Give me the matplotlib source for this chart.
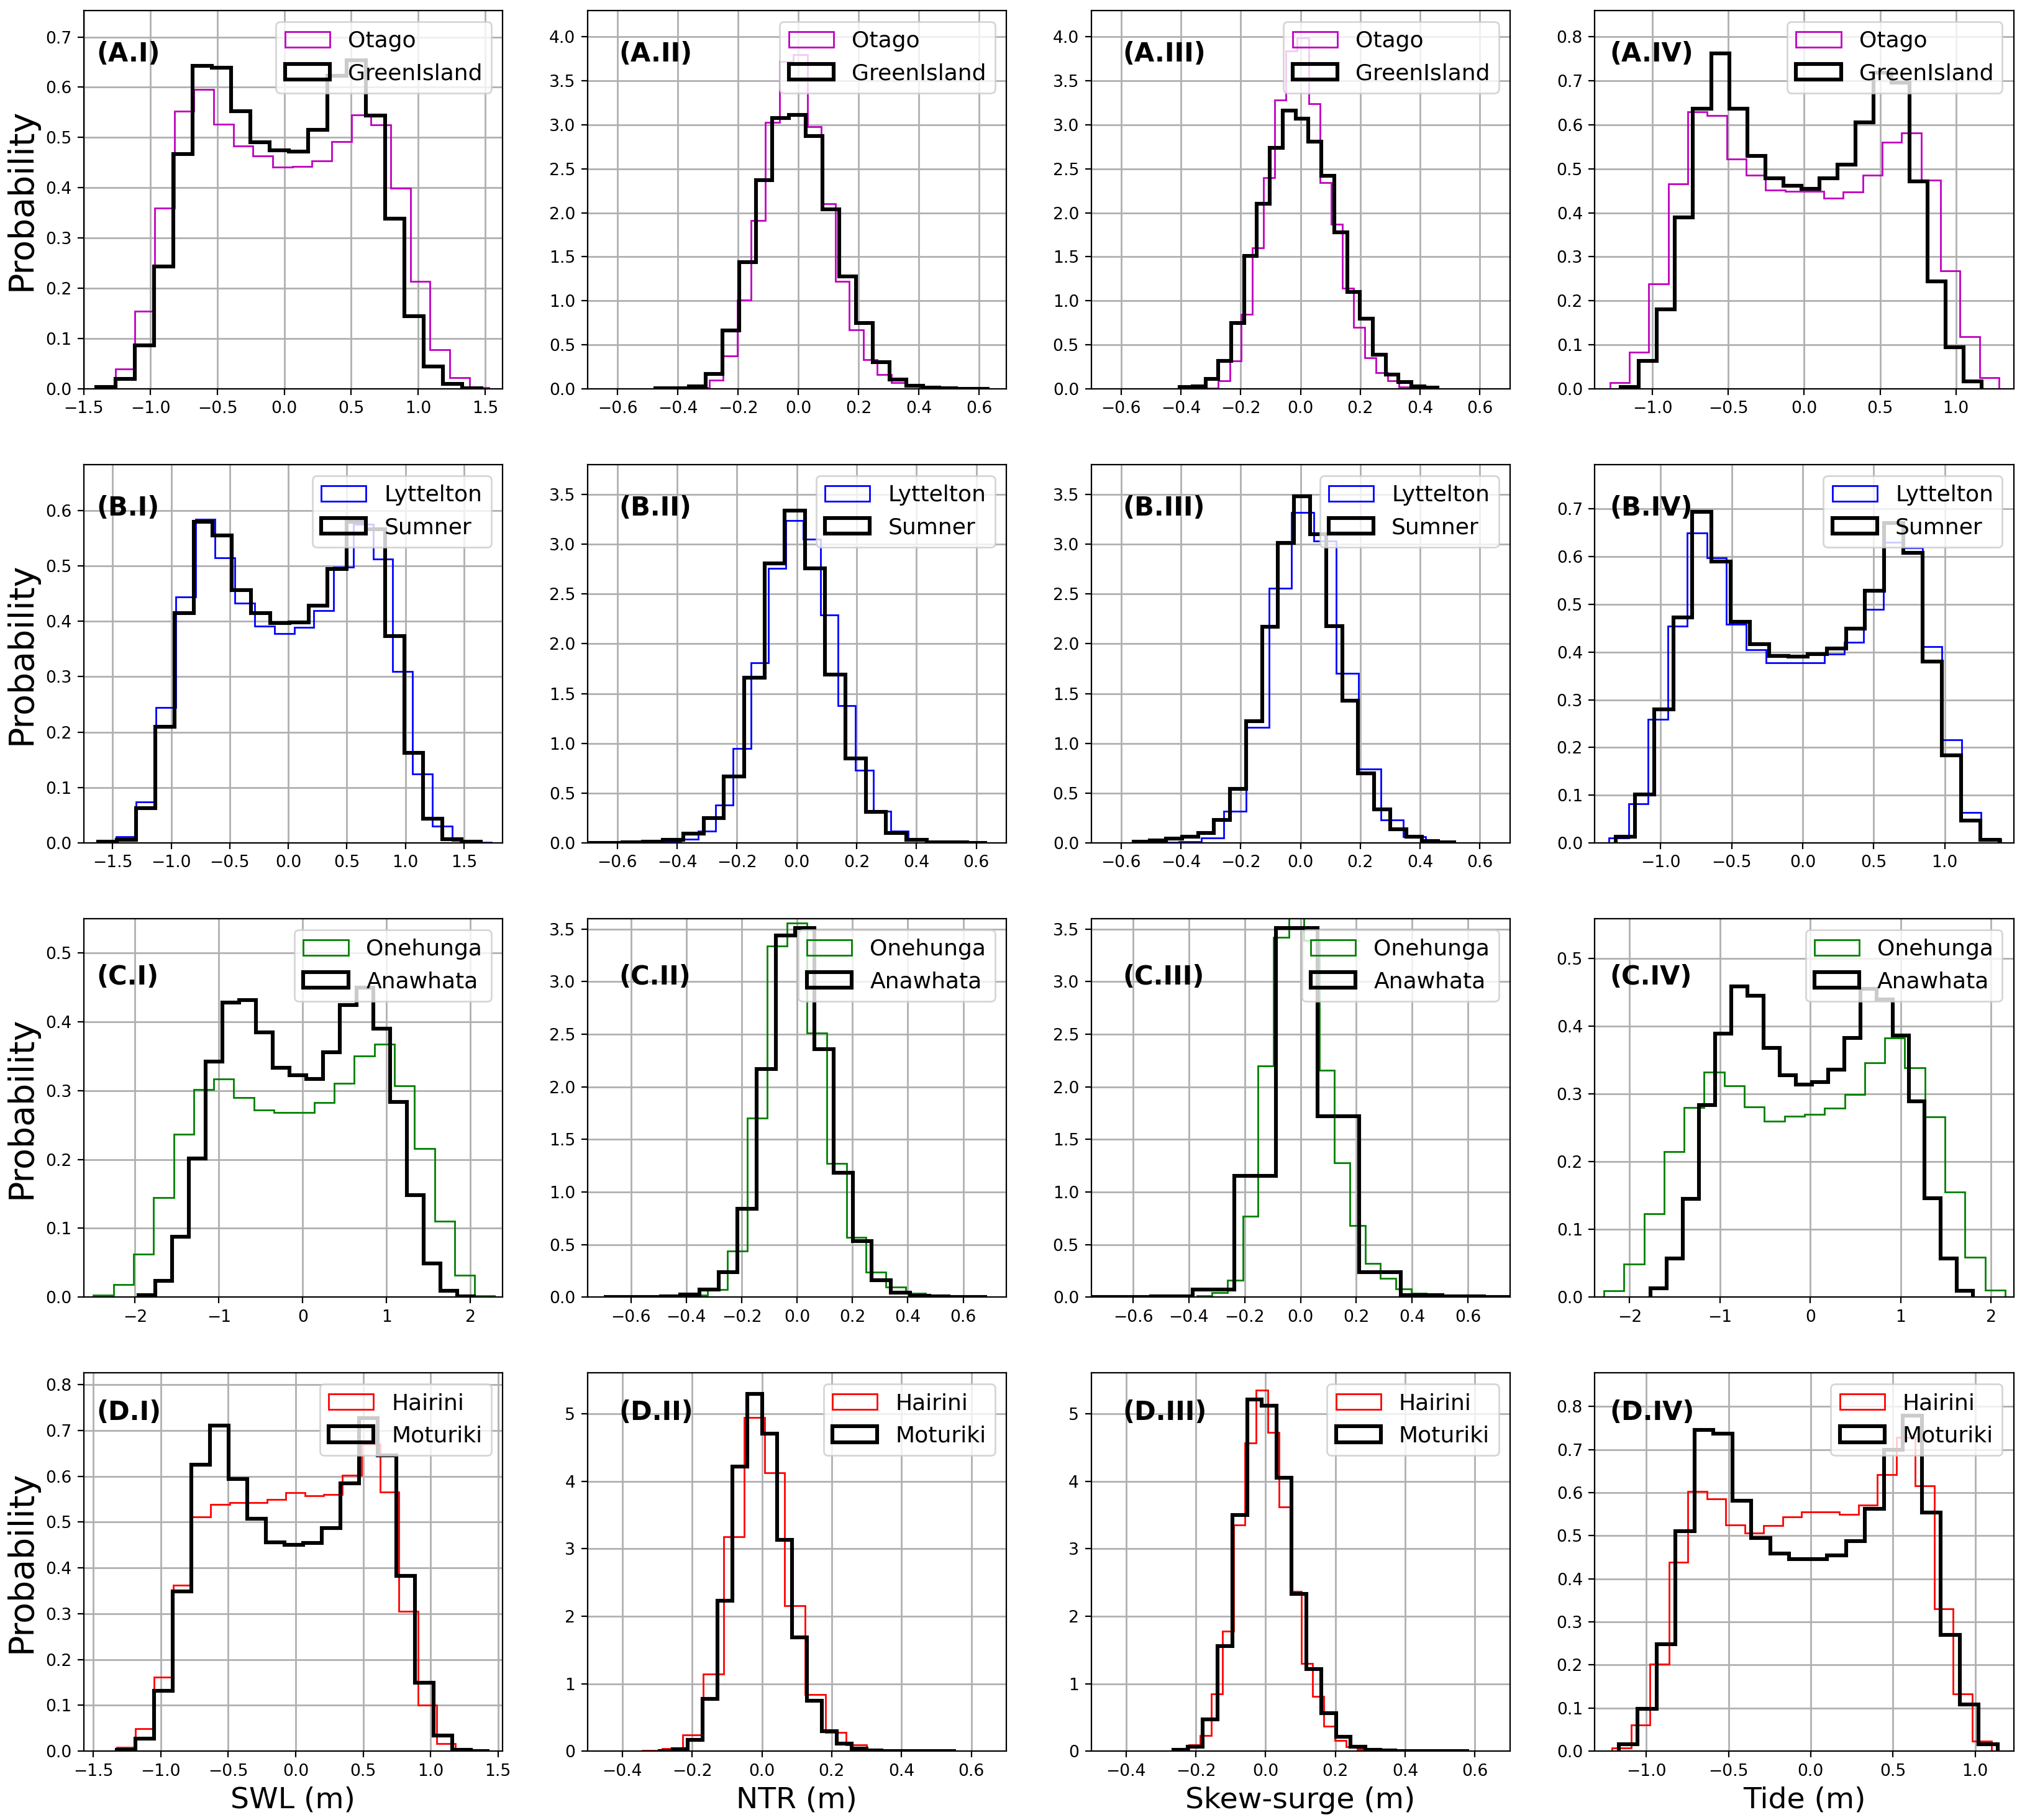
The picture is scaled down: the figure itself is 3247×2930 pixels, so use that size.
import numpy as np
import matplotlib
matplotlib.use('Agg')
from matplotlib import pyplot as plt

# each series: 20 equal bins between (lo, hi), heights are densities
# order of ranges: SWL, NTR, Skew-surge, Tide
otago_ranges = [(-1.41, 1.53), (-0.435, 0.495), (-0.35, 0.404), (-1.28, 1.283)]
otago_swl = [0.003, 0.04, 0.155, 0.359, 0.552, 0.596, 0.527, 0.483, 0.464, 0.441, 0.442, 0.453, 0.492, 0.545, 0.525, 0.399, 0.214, 0.078, 0.022, 0.003]
otago_ntr = [0.002, 0.005, 0.012, 0.10, 0.376, 1.01, 1.91, 3.03, 3.72, 3.80, 2.98, 2.10, 1.22, 0.667, 0.33, 0.16, 0.07, 0.025, 0.008, 0.003]
otago_skew = [0.002, 0.01, 0.09, 0.32, 0.85, 1.60, 2.40, 3.28, 3.84, 3.99, 3.24, 2.34, 1.87, 1.14, 0.70, 0.35, 0.18, 0.09, 0.02, 0.005]
otago_tide = [0.014, 0.083, 0.239, 0.466, 0.629, 0.621, 0.522, 0.485, 0.452, 0.449, 0.449, 0.433, 0.448, 0.485, 0.560, 0.582, 0.474, 0.268, 0.118, 0.026]

greenisland_ranges = [(-1.408, 1.472), (-0.474, 0.635), (-0.404, 0.457), (-1.209, 1.171)]
greenisland_swl = [0.004, 0.02, 0.086, 0.243, 0.467, 0.643, 0.639, 0.552, 0.491, 0.475, 0.472, 0.515, 0.623, 0.654, 0.544, 0.339, 0.145, 0.045, 0.010, 0.001]
greenisland_ntr = [0.005, 0.01, 0.03, 0.17, 0.66, 1.44, 2.37, 3.08, 3.11, 2.87, 2.04, 1.28, 0.75, 0.30, 0.107, 0.034, 0.012, 0.005, 0.003, 0.002]
greenisland_skew = [0.018, 0.03, 0.11, 0.32, 0.75, 1.51, 2.10, 2.74, 3.16, 3.07, 2.81, 2.42, 1.78, 1.10, 0.80, 0.39, 0.16, 0.077, 0.03, 0.012]
greenisland_tide = [0.004, 0.063, 0.181, 0.390, 0.637, 0.762, 0.637, 0.529, 0.479, 0.462, 0.455, 0.478, 0.510, 0.605, 0.718, 0.696, 0.472, 0.244, 0.094, 0.017]

lyttelton_ranges = [(-1.636, 1.736), (-0.563, 0.606), (-0.781, 0.719), (-1.363, 1.395)]
lyttelton_swl = [0.001, 0.011, 0.074, 0.245, 0.444, 0.584, 0.515, 0.433, 0.391, 0.378, 0.389, 0.419, 0.498, 0.575, 0.512, 0.31, 0.125, 0.03, 0.004, 0.001]
lyttelton_ntr = [0.002, 0.004, 0.012, 0.04, 0.12, 0.38, 0.95, 1.81, 2.76, 3.24, 3.05, 2.29, 1.38, 0.73, 0.32, 0.12, 0.03, 0.01, 0.004, 0.002]
lyttelton_skew = [0.001, 0.001, 0.002, 0.003, 0.004, 0.01, 0.05, 0.32, 1.16, 2.56, 3.32, 3.03, 1.70, 0.74, 0.23, 0.06, 0.01, 0.003, 0.001, 0.001]
lyttelton_tide = [0.011, 0.082, 0.259, 0.454, 0.649, 0.598, 0.458, 0.405, 0.378, 0.377, 0.378, 0.396, 0.42, 0.489, 0.63, 0.618, 0.412, 0.216, 0.064, 0.008]

sumner_ranges = [(-1.626, 1.643), (-0.718, 0.637), (-0.557, 0.514), (-1.317, 1.385)]
sumner_swl = [0.002, 0.006, 0.063, 0.21, 0.415, 0.58, 0.555, 0.456, 0.415, 0.397, 0.398, 0.428, 0.494, 0.58, 0.566, 0.373, 0.163, 0.044, 0.007, 0.002]
sumner_ntr = [0.002, 0.003, 0.005, 0.01, 0.03, 0.095, 0.25, 0.67, 1.66, 2.81, 3.34, 2.76, 1.69, 0.85, 0.31, 0.10, 0.03, 0.008, 0.004, 0.002]
sumner_skew = [0.01, 0.025, 0.045, 0.06, 0.10, 0.23, 0.54, 1.22, 2.17, 3.01, 3.48, 3.10, 2.18, 1.43, 0.70, 0.34, 0.14, 0.06, 0.02, 0.008]
sumner_tide = [0.013, 0.102, 0.28, 0.472, 0.694, 0.59, 0.463, 0.416, 0.392, 0.39, 0.396, 0.408, 0.449, 0.528, 0.67, 0.608, 0.38, 0.183, 0.047, 0.006]

onehunga_ranges = [(-2.498, 2.291), (-0.752, 0.679), (-0.426, 0.67), (-2.284, 2.156)]
onehunga_swl = [0.003, 0.018, 0.062, 0.145, 0.237, 0.302, 0.317, 0.29, 0.272, 0.268, 0.268, 0.283, 0.311, 0.35, 0.368, 0.307, 0.216, 0.11, 0.032, 0.002]
onehunga_ntr = [0.001, 0.001, 0.002, 0.003, 0.008, 0.02, 0.07, 0.436, 1.70, 3.34, 3.56, 2.51, 1.27, 0.57, 0.24, 0.095, 0.036, 0.015, 0.005, 0.002]
onehunga_skew = [0.002, 0.01, 0.045, 0.16, 0.77, 2.20, 3.42, 3.75, 3.39, 2.16, 1.28, 0.68, 0.32, 0.18, 0.08, 0.035, 0.015, 0.005, 0.002, 0.001]
onehunga_tide = [0.009, 0.049, 0.123, 0.215, 0.28, 0.332, 0.312, 0.281, 0.26, 0.267, 0.27, 0.279, 0.299, 0.346, 0.383, 0.339, 0.266, 0.155, 0.059, 0.01]

anawhata_ranges = [(-1.962, 2.046), (-0.699, 0.685), (-0.833, 2.147), (-1.766, 1.801)]
anawhata_swl = [0.003, 0.024, 0.088, 0.201, 0.342, 0.428, 0.432, 0.385, 0.333, 0.322, 0.317, 0.356, 0.424, 0.45, 0.39, 0.284, 0.148, 0.049, 0.009, 0.001]
anawhata_ntr = [0.001, 0.002, 0.003, 0.006, 0.025, 0.07, 0.24, 0.84, 2.17, 3.44, 3.51, 2.36, 1.18, 0.53, 0.16, 0.045, 0.015, 0.006, 0.003, 0.002]
anawhata_skew = [0.001, 0.002, 0.005, 0.07, 1.155, 3.51, 1.72, 0.24, 0.018, 0.005, 0.002, 0.001, 0.001, 0.001, 0.001, 0.001, 0.001, 0.001, 0.001, 0.001]
anawhata_tide = [0.013, 0.057, 0.145, 0.284, 0.389, 0.459, 0.445, 0.368, 0.328, 0.314, 0.318, 0.336, 0.383, 0.455, 0.44, 0.386, 0.289, 0.146, 0.057, 0.009]

hairini_ranges = [(-1.467, 1.324), (-0.4605, 0.709), (-0.252, 0.392), (-1.207, 1.098)]
hairini_swl = [0.001, 0.008, 0.049, 0.161, 0.363, 0.511, 0.539, 0.542, 0.542, 0.55, 0.565, 0.557, 0.56, 0.602, 0.67, 0.566, 0.305, 0.101, 0.016, 0.001]
hairini_ntr = [0.001, 0.002, 0.008, 0.035, 0.24, 1.145, 3.18, 4.95, 4.13, 2.16, 0.84, 0.28, 0.09, 0.025, 0.01, 0.005, 0.003, 0.002, 0.001, 0.003]
hairini_skew = [0.01, 0.09, 0.23, 0.85, 1.78, 3.35, 4.57, 5.35, 4.73, 3.62, 2.37, 1.30, 0.81, 0.37, 0.16, 0.07, 0.03, 0.012, 0.005, 0.002]
hairini_tide = [0.007, 0.061, 0.202, 0.438, 0.603, 0.586, 0.525, 0.506, 0.524, 0.543, 0.555, 0.555, 0.55, 0.571, 0.641, 0.728, 0.616, 0.331, 0.133, 0.024]

moturiki_ranges = [(-1.324, 1.438), (-0.299, 0.557), (-0.265, 0.583), (-1.168, 1.137)]
moturiki_swl = [0.003, 0.028, 0.132, 0.349, 0.625, 0.711, 0.594, 0.508, 0.456, 0.451, 0.454, 0.487, 0.584, 0.727, 0.646, 0.383, 0.149, 0.034, 0.003, 0.001]
moturiki_ntr = [0.005, 0.026, 0.17, 0.78, 2.23, 4.22, 5.30, 4.71, 3.13, 1.69, 0.75, 0.30, 0.115, 0.035, 0.013, 0.006, 0.004, 0.003, 0.002, 0.001]
moturiki_skew = [0.022, 0.07, 0.476, 1.555, 3.50, 5.21, 5.12, 4.05, 2.33, 1.22, 0.56, 0.21, 0.07, 0.025, 0.01, 0.006, 0.004, 0.003, 0.002, 0.001]
moturiki_tide = [0.016, 0.099, 0.248, 0.51, 0.745, 0.737, 0.581, 0.494, 0.459, 0.445, 0.445, 0.455, 0.487, 0.563, 0.70, 0.779, 0.554, 0.27, 0.109, 0.016]

row_letters = ['A', 'B', 'C', 'D']
col_numerals = ['I', 'II', 'III', 'IV']
xlabels = ['SWL (m)', 'NTR (m)', 'Skew-surge (m)', 'Tide (m)']

rows = [
    ('Otago', 'm', otago_ranges, [otago_swl, otago_ntr, otago_skew, otago_tide],
     'GreenIsland', greenisland_ranges, [greenisland_swl, greenisland_ntr, greenisland_skew, greenisland_tide]),
    ('Lyttelton', 'b', lyttelton_ranges, [lyttelton_swl, lyttelton_ntr, lyttelton_skew, lyttelton_tide],
     'Sumner', sumner_ranges, [sumner_swl, sumner_ntr, sumner_skew, sumner_tide]),
    ('Onehunga', 'g', onehunga_ranges, [onehunga_swl, onehunga_ntr, onehunga_skew, onehunga_tide],
     'Anawhata', anawhata_ranges, [anawhata_swl, anawhata_ntr, anawhata_skew, anawhata_tide]),
    ('Hairini', 'r', hairini_ranges, [hairini_swl, hairini_ntr, hairini_skew, hairini_tide],
     'Moturiki', moturiki_ranges, [moturiki_swl, moturiki_ntr, moturiki_skew, moturiki_tide]),
]

# axis limits
xlims = [
    [(-1.5, 1.63), (-0.70, 0.69), (-0.70, 0.70), (-1.38, 1.38)],
    [(-1.747, 1.829), (-0.70, 0.70), (-0.70, 0.70), (-1.463, 1.485)],
    [(-2.613, 2.383), (-0.757, 0.755), (-0.75, 0.75), (-2.384, 2.249)],
    [(-1.571, 1.533), (-0.50, 0.70), (-0.50, 0.70), (-1.3125, 1.234)],
]
ytops = [
    [0.753, 4.30, 4.30, 0.86],
    [0.683, 3.80, 3.80, 0.793],
    [0.55, 3.6, 3.6, 0.559],
    [0.826, 5.61, 5.61, 0.878],
]
label_y = [0.885, 0.885, 0.845, 0.895]
label_x = [0.03, 0.075, 0.075, 0.035]


def step_hist(ax, rng, heights, **kw):
    heights = np.asarray(heights)
    edges = np.linspace(rng[0], rng[1], len(heights) + 1)
    ax.hist(edges[:-1], bins=edges, weights=heights, histtype='step', **kw)


plt.rcParams['font.size'] = 10
fig, axes = plt.subplots(4, 4, figsize=(16.24, 14.65), dpi=200)
fig.subplots_adjust(left=0.0415, right=0.998, top=0.9943, bottom=0.0378,
                    wspace=0.203, hspace=0.2)

for i, (name1, col1, rng1, data1, name2, rng2, data2) in enumerate(rows):
    for j in range(4):
        ax = axes[i, j]
        ax.set_axisbelow(True)
        ax.grid(True, color='#b0b0b0', lw=1.0)
        step_hist(ax, rng1[j], data1[j], color=col1, lw=1.0, label=name1)
        step_hist(ax, rng2[j], data2[j], color='k', lw=2.2, label=name2)
        ax.set_xlim(*xlims[i][j])
        ax.set_ylim(0, ytops[i][j])
        ax.tick_params(labelsize=9.6)
        ax.legend(loc='upper right', fontsize=13)
        ax.text(label_x[j], label_y[i], '(%s.%s)' % (row_letters[i], col_numerals[j]),
                transform=ax.transAxes, fontsize=15, fontweight='bold', va='center')
        if j == 0:
            ax.set_ylabel('Probability', fontsize=20)
        if i == 3:
            ax.set_xlabel(xlabels[j], fontsize=17)

fig.savefig('out.png', dpi=200)
